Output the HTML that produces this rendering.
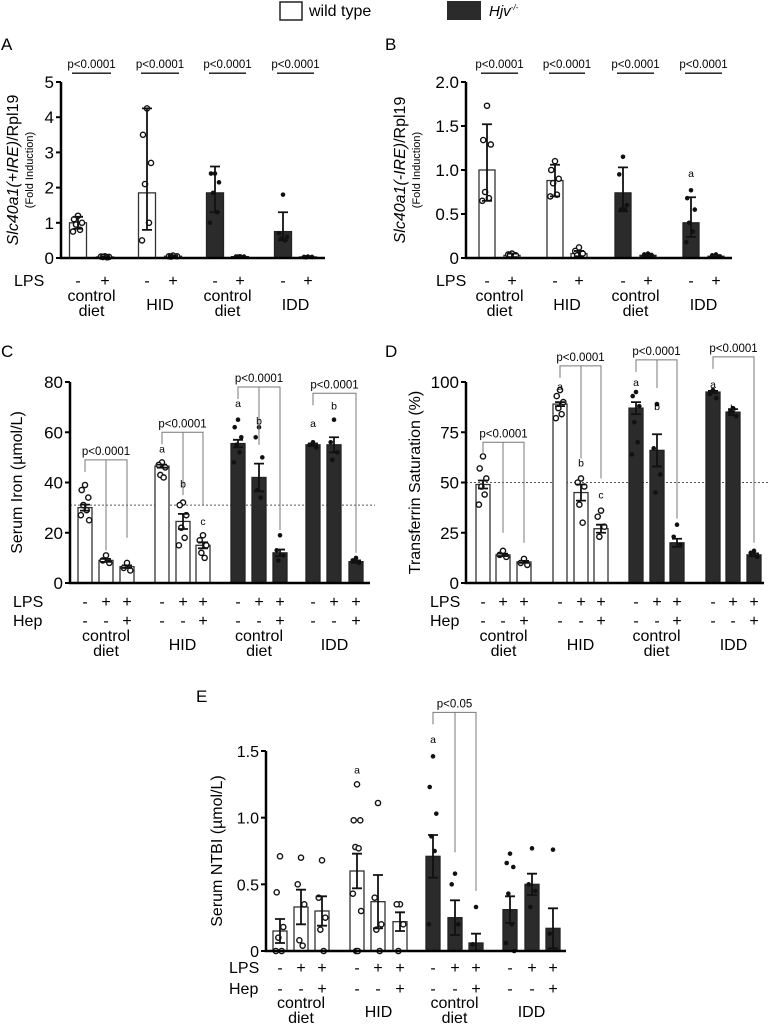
<!DOCTYPE html>
<html><head><meta charset="utf-8"><style>
html,body{margin:0;padding:0;background:#fff;}
svg{display:block;font-family:"Liberation Sans",sans-serif;}
</style></head><body>
<svg id="fig" width="769" height="1027" viewBox="0 0 769 1027" xmlns="http://www.w3.org/2000/svg">
<g>
<rect x="280" y="2" width="22" height="18" fill="#fff" stroke="#222" stroke-width="1.5"/>
<text x="309" y="16" font-size="16">wild type</text>
<rect x="447" y="1" width="34" height="19" fill="#2b2b2b"/>
<text x="489" y="16" font-size="15" font-style="italic">Hjv<tspan font-size="8" dy="-6">-/-</tspan></text>
</g>
</svg>
<script>
// ---- Panel A data ----
const aMeans=[1.0,0.03,1.85,0.05,1.85,0.04,0.75,0.03];
const aErr=[0.17,0.02,1.05,0.02,0.55,0.02,0.25,0.02];
const aErrHi=[0.17,0.02,2.4,0.02,0.75,0.02,0.55,0.02];
const aPts=[[1.2,1.1,1.0,0.95,0.8,0.75],[0.05,0.04,0.03,0.03,0.02],[4.25,3.5,2.7,2.1,1.0,0.5],[0.07,0.05,0.05,0.04],[2.4,2.4,2.15,1.85,1.3,1.0],[0.05,0.04,0.04,0.04],[1.8,0.7,0.6,0.55,0.5],[0.04,0.03,0.03,0.02]];
const aTicks=[0,1,2,3,4,5];
// ---- Panel B data ----
const bMeans=[1.0,0.03,0.88,0.05,0.74,0.03,0.4,0.02];
const bErr=[0.35,0.02,0.18,0.03,0.21,0.02,0.16,0.01];
const bErrHi=[0.52,0.02,0.18,0.03,0.29,0.02,0.29,0.01];
const bPts=[[1.73,1.34,1.29,0.75,0.68,0.65],[0.05,0.04,0.03,0.03],[1.1,1.0,0.9,0.85,0.72,0.7],[0.12,0.08,0.05,0.03],[1.15,0.95,0.6,0.55,0.55],[0.05,0.04,0.03],[0.77,0.68,0.55,0.4,0.3,0.18],[0.04,0.03,0.02]];
const bTicks=[0,0.5,1.0,1.5,2.0];
// ---- Panel C data ----
const cMeans=[30,9,6.5,46.5,24.5,15,55.5,42,12,55,55,8.5];
const cErr=[1.2,0.6,0.5,0.6,3,1.2,1.5,5.5,1.3,0.5,3,0.5];
const cPts=[[39,37,34,31,29,27,25],[11,9,8],[8,6,5],[48,47,46,43,42],[32,31,27,22,18,15],[19,17,15,12,10],[65,62,58,55,52,48],[62,58,50,37,34],[19,13,11,9],[56,55,54],[65,56,52,49],[10,9,8]];
const cTicks=[0,20,40,60,80];
// ---- Panel D data ----
const dMeans=[49,14,10.5,89,45,27,87,66,20,95,85,14];
const dErr=[2,0.6,0.5,1,4,2,3,8,2,0.6,1.5,0.7];
const dPts=[[63,57,52,48,44,39],[16,14,13],[12,10,9],[96,93,90,87,84,82],[52,50,48,39,30],[36,33,28,23],[95,93,88,80,70,64],[89,67,54,45],[29,23,19],[96,94,92],[87,85,83],[16,15,13]];
const dTicks=[0,25,50,75,100];
// ---- Panel E data ----
const eMeans=[0.15,0.33,0.3,0.6,0.37,0.22,0.71,0.25,0.06,0.31,0.5,0.17];
const eErr=[0.09,0.13,0.11,0.13,0.2,0.07,0.16,0.13,0.07,0.1,0.08,0.15];
const ePts=[[0.71,0.44,0.18,0.1,0,0],[0.7,0.5,0.35,0.08,0.04],[0.68,0.4,0.25,0.16,0],[1.25,0.98,0.98,0.78,0.77,0.43,0.3,0,0],[1.11,0.4,0.2,0.16,0],[0.35,0.35,0.2,0],[1.46,1.23,1.03,0.86,0.75,0.2],[0.58,0.5,0.2],[0.33,0.05],[0.73,0.66,0.63,0.43,0.2,0.06,0],[0.77,0.5,0.45,0.33],[0.76,0.13]];
const eTicks=[0,0.5,1.0,1.5];
const eTickLabels=["0","0.5","1.0","1.5"];

const NS="http://www.w3.org/2000/svg";
const svg=document.getElementById('fig');
function mk(tag,attrs,parent,txt){const e=document.createElementNS(NS,tag);for(const k in attrs)e.setAttribute(k,attrs[k]);if(txt!==undefined)e.textContent=txt;(parent||svg).appendChild(e);return e;}

function panel(cfg){
  const g=mk('g',{});
  
  
  const y=v=>cfg.y0-(v-cfg.min)/(cfg.max-cfg.min)*(cfg.y0-cfg.yTop);
  const x=i=>cfg.centers[i];
  const L=mk('text',{x:cfg.lx,y:cfg.ly,'font-size':17},g,cfg.letter);
  
  
  const tt=mk('text',{transform:`translate(${cfg.tx},${(cfg.y0+cfg.yTop)/2}) rotate(-90)`,'text-anchor':'middle','font-size':cfg.tfs||16},g);
  
  
  cfg.title(tt);
  if(cfg.sub){const s=mk('text',{transform:`translate(${cfg.tx+15},${(cfg.y0+cfg.yTop)/2}) rotate(-90)`,'text-anchor':'middle','font-size':11},g,cfg.sub);
    
    }
  if(cfg.ref!==undefined){const r=mk('line',{x1:cfg.ax,x2:cfg.refEnd,y1:y(cfg.ref),y2:y(cfg.ref),stroke:'#555','stroke-width':1,'stroke-dasharray':'2,2'},g);
    
    }
  const n=cfg.means.length;
  for(let i=0;i<n;i++){
    const dark=cfg.isDark(i);
    const b=mk('rect',{x:x(i)-cfg.bw/2,y:y(cfg.means[i]),width:cfg.bw,height:y(cfg.min)-y(cfg.means[i]),fill:dark?'#2b2b2b':'#fff',stroke:dark?'#222':'#333','stroke-width':1.3},g);
    
    
    (cfg.pts[i]||[]).forEach((p,k)=>{
      const off=[0,-4,4,-2,2,-5,5,-1,1][k%9]*cfg.bw/17;
      const c=mk('circle',{cx:x(i)+off,cy:y(p),r:dark?2.3:2.6,fill:dark?'#111':'#fff',stroke:'#111','stroke-width':dark?0:1.4},g);
      
      
    });
    const hiE=cfg.errHi?cfg.errHi[i]:cfg.err[i];
    const lo=Math.max(cfg.min,cfg.means[i]-cfg.err[i]),hi=cfg.means[i]+hiE;
    const eb=mk('path',{d:`M${x(i)},${y(lo)}V${y(hi)}M${x(i)-5},${y(hi)}H${x(i)+5}M${x(i)-5},${y(lo)}H${x(i)+5}`,stroke:'#111','stroke-width':1.8,fill:'none'},g);
    
    
  }
  const ax=mk('path',{d:`M${cfg.ax},${cfg.yTop}V${cfg.y0}H${cfg.axEnd}`,stroke:'#000','stroke-width':2.5,fill:'none'},g);
  
  
  cfg.ticks.forEach((t,k)=>{
    const tl=mk('line',{x1:cfg.ax-5,x2:cfg.ax,y1:y(t),y2:y(t),stroke:'#000','stroke-width':2},g);
    
    
    const tx=mk('text',{x:cfg.ax-7,y:y(t)+6,'text-anchor':'end','font-size':cfg.tickfs||17},g,cfg.tickLabels?cfg.tickLabels[k]:String(t));
    
    
  });
  cfg.rows.forEach(row=>{
    const rl=mk('text',{x:cfg.rowLabelX,y:row.y+6,'font-size':16},g,row.label);
    
    
    for(let i=0;i<n;i++){
      const s=mk('text',{x:x(i),y:row.y+6,'text-anchor':'middle','font-size':16},g,row.signs[i]);
      
      
    }
  });
  cfg.groups.forEach(gr=>{
    const lines=gr.t.split('|');
    const gx=(x(gr.a)+x(gr.b))/2;
    lines.forEach((ln,k)=>{
      const yy=lines.length===1?cfg.gy+9:cfg.gy+k*15;
      const t=mk('text',{x:gx,y:yy,'text-anchor':'middle','font-size':16},g,ln);
      
      
    });
  });
  (cfg.brackets||[]).forEach(br=>{
    const by=y(br.v);
    let d;
    if(br.type==='line'){d=`M${x(br.a)-6},${by}H${x(br.b)+6}`;}
    else{d=`M${x(br.a)},${by+12}V${by}H${x(br.b)}V${y(br.endV)}`;(br.mids||[]).forEach(m=>{d+=`M${x(m)},${by}V${y(br.midV)}`;});}
    const p=mk('path',{d:d,stroke:br.type==='line'?'#111':'#777','stroke-width':br.type==='line'?1.3:1,fill:'none'},g);
    
    
    const cx=(x(br.a)+x(br.b))/2;
    const t=mk('text',{x:cx,y:by-5,'text-anchor':'middle','font-size':11.5},g,br.text);
    
    
  });
  (cfg.letters||[]).forEach(l=>{
    const t=mk('text',{x:x(l.i),y:y(l.v),'text-anchor':'middle','font-size':10.5},g,l.t);
    
    
  });
}
const two=i=>i>=4;
const three=i=>i>=6;
const sign2=['-','+','-','+','-','+','-','+'];
const lps3=['-','+','+','-','+','+','-','+','+','-','+','+'];
const hep3=['-','-','+','-','-','+','-','-','+','-','-','+'];
const g2=[{a:0,b:1,t:'control|diet'},{a:2,b:3,t:'HID'},{a:4,b:5,t:'control|diet'},{a:6,b:7,t:'IDD'}];
const g3=[{a:0,b:2,t:'control|diet'},{a:3,b:5,t:'HID'},{a:6,b:8,t:'control|diet'},{a:9,b:11,t:'IDD'}];

panel({name:'panel-a',letter:'A',lx:1,ly:50,ax:61,axEnd:325,y0:258,yTop:82,min:0,max:5,ticks:aTicks,bw:17,
 centers:[78,105,147,173,215,240,283,308],means:aMeans,err:aErr,errHi:aErrHi,pts:aPts,isDark:two,tx:18,sub:'(Fold Induction)',
 title:t=>{mk('tspan',{'font-style':'italic'},t,'Slc40a1(+IRE)');mk('tspan',{},t,'/Rpl19');},
 rows:[{label:'LPS',y:280,signs:sign2}],rowLabelX:14,gy:301,groups:g2,
 brackets:[[0,1],[2,3],[4,5],[6,7]].map(p=>({type:'line',a:p[0],b:p[1],v:5.25,text:'p<0.0001'}))});

panel({name:'panel-b',letter:'B',lx:385,ly:50,ax:466,axEnd:732,y0:258,yTop:82,min:0,max:2,ticks:bTicks,tickLabels:['0','0.5','1.0','1.5','2.0'],bw:16,
 centers:[487,512,555,579,623,648,691,716],means:bMeans,err:bErr,errHi:bErrHi,pts:bPts,isDark:two,tx:405,sub:'(Fold Induction)',
 title:t=>{mk('tspan',{'font-style':'italic'},t,'Slc40a1(-IRE)');mk('tspan',{},t,'/Rpl19');},
 rows:[{label:'LPS',y:280,signs:sign2}],rowLabelX:436,gy:301,groups:g2,
 brackets:[[0,1],[2,3],[4,5],[6,7]].map(p=>({type:'line',a:p[0],b:p[1],v:2.1,text:'p<0.0001'})),
 letters:[{i:6,v:0.92,t:'a'}]});

panel({name:'panel-c',letter:'C',lx:1,ly:357,ax:70,axEnd:370,y0:583,yTop:382,min:0,max:80,ticks:cTicks,bw:14,
 centers:[85,106,127,162,183,203,238,259,280,313,334,356],means:cMeans,err:cErr,pts:cPts,isDark:three,tx:22,
 title:t=>{t.textContent='Serum Iron (µmol/L)';},ref:31,refEnd:375,
 rows:[{label:'LPS',y:601,signs:lps3},{label:'Hep',y:620,signs:hep3}],rowLabelX:13,gy:641,groups:g3,
 brackets:[{a:0,b:2,v:49,endV:18,mids:[1],midV:13,text:'p<0.0001'},{a:3,b:5,v:60,endV:31,mids:[4],midV:35,text:'p<0.0001'},
  {a:6,b:8,v:78,endV:21,mids:[7],midV:55,text:'p<0.0001'},{a:9,b:11,v:75.5,endV:12,text:'p<0.0001'}],
 letters:[{i:3,v:52,t:'a'},{i:4,v:38,t:'b'},{i:5,v:23,t:'c'},{i:6,v:70,t:'a'},{i:7,v:63,t:'b'},{i:9,v:62,t:'a'},{i:10,v:69,t:'b'}]});

panel({name:'panel-d',letter:'D',lx:385,ly:357,ax:466,axEnd:764,y0:583,yTop:382,min:0,max:100,ticks:dTicks,bw:14,
 centers:[483,503,524,560,581,601,636,657,677,713,733,754],means:dMeans,err:dErr,pts:dPts,isDark:three,tx:420,
 title:t=>{t.textContent='Transferrin Saturation (%)';},ref:50,refEnd:769,
 rows:[{label:'LPS',y:601,signs:lps3},{label:'Hep',y:620,signs:hep3}],rowLabelX:430,gy:641,groups:g3,
 brackets:[{a:0,b:2,v:70,endV:20,mids:[1],midV:25,text:'p<0.0001'},{a:3,b:5,v:108,endV:52,mids:[4],midV:62,text:'p<0.0001'},
  {a:6,b:8,v:111,endV:32,mids:[7],midV:97,text:'p<0.0001'},{a:9,b:11,v:112.5,endV:20,text:'p<0.0001'}],
 letters:[{i:3,v:96,t:'a'},{i:4,v:58,t:'b'},{i:5,v:42,t:'c'},{i:6,v:98,t:'a'},{i:7,v:86,t:'b'},{i:9,v:97,t:'a'},{i:10,v:85,t:'b'}]});

panel({name:'panel-e',letter:'E',lx:196,ly:702,ax:266,axEnd:566,y0:951,yTop:751,min:0,max:1.5,ticks:eTicks,tickLabels:eTickLabels,bw:14,tickfs:16,
 centers:[280,301,322,357,378,400,433,455,476,510,532,553],means:eMeans,err:eErr,pts:ePts,isDark:three,tx:222,
 title:t=>{t.textContent='Serum NTBI (µmol/L)';},
 rows:[{label:'LPS',y:967,signs:lps3},{label:'Hep',y:988,signs:hep3}],rowLabelX:229,gy:1008,groups:g3,
 brackets:[{a:6,b:8,v:1.79,endV:0.45,mids:[7],midV:0.74,text:'p<0.05'}],
 letters:[{i:3,v:1.33,t:'a'},{i:6,v:1.56,t:'a'}]});
</script>
</body></html>
